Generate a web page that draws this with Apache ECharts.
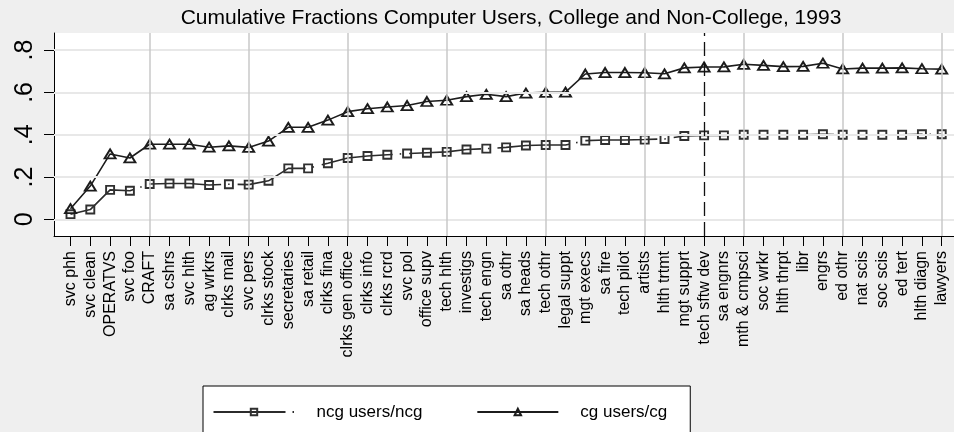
<!DOCTYPE html>
<html>
<head>
<meta charset="utf-8">
<script src="https://cdn.jsdelivr.net/npm/echarts@6/dist/echarts.min.js"></script>
<style>
  html, body { margin: 0; padding: 0; background: #efefef; }
  #chart { width: 954px; height: 432px; }
</style>
</head>
<body>
<div id="chart"></div>
<script>
// Occupations ordered by cumulative share of computer users
const occupations = [
  'svc phh', 'svc clean', 'OPERATVS', 'svc foo', 'CRAFT', 'sa cshrs', 'svc hlth',
  'ag wrkrs', 'clrks mail', 'svc pers', 'clrks stock', 'secretaries', 'sa retail',
  'clrks fina', 'clrks gen office', 'clrks info', 'clrks rcrd', 'svc pol',
  'office supv', 'tech hlth', 'investigs', 'tech engn', 'sa othr', 'sa heads',
  'tech othr', 'legal suppt', 'mgt execs', 'sa fire', 'tech pilot', 'artists',
  'hlth trtmt', 'mgt supprt', 'tech sftw dev', 'sa engnrs', 'mth & cmpsci',
  'soc wrkr', 'hlth thrpt', 'libr', 'engrs', 'ed othr', 'nat scis', 'soc scis',
  'ed tert', 'hlth diagn', 'lawyers'
];

// Non-college computer users / non-college workers (cumulative)
const ncgShare = [
  0.024, 0.046, 0.139, 0.135, 0.167, 0.169, 0.169, 0.162, 0.166, 0.164,
  0.182, 0.241, 0.241, 0.265, 0.290, 0.299, 0.305, 0.311, 0.315, 0.319,
  0.330, 0.334, 0.340, 0.349, 0.351, 0.351, 0.372, 0.375, 0.375, 0.377,
  0.380, 0.394, 0.397, 0.397, 0.400, 0.400, 0.400, 0.400, 0.402, 0.400,
  0.400, 0.400, 0.400, 0.402, 0.402
];

// College computer users / college workers (cumulative)
const cgShare = [
  0.050, 0.157, 0.309, 0.290, 0.355, 0.355, 0.355, 0.341, 0.347, 0.340,
  0.370, 0.435, 0.435, 0.469, 0.509, 0.523, 0.531, 0.538, 0.557, 0.563,
  0.580, 0.591, 0.580, 0.597, 0.600, 0.601, 0.687, 0.694, 0.694, 0.693,
  0.688, 0.716, 0.720, 0.721, 0.733, 0.728, 0.722, 0.723, 0.738, 0.711,
  0.715, 0.715, 0.716, 0.712, 0.710
];

const yTicks = [0, 0.2, 0.4, 0.6, 0.8];
const xRuleTicks = [5, 10, 15, 20, 25, 30, 35, 40, 45];
const cutoffPosition = 33; // tech sftw dev

const positions = occupations.map((_, i) => i + 1);
const font = "'Liberation Sans', Arial, Helvetica, sans-serif";

const chart = echarts.init(document.getElementById('chart'), null, { renderer: 'canvas' });

chart.setOption({
  animation: false,
  backgroundColor: '#efefef',
  textStyle: { fontFamily: font },
  title: {
    text: 'Cumulative Fractions Computer Users, College and Non-College, 1993',
    left: 506,
    textAlign: 'center',
    top: 3,
    textStyle: { fontFamily: font, fontSize: 21, fontWeight: 'normal', color: '#000' }
  },
  grid: {
    left: 54, right: 0, top: 33, bottom: 196,
    show: true, backgroundColor: '#ffffff', borderWidth: 0
  },
  legend: {
    data: ['ncg users/ncg', 'cg users/cg'],
    left: 203, top: 386,
    orient: 'horizontal',
    backgroundColor: '#ffffff',
    borderColor: '#000', borderWidth: 1, borderRadius: 0,
    padding: [16, 23, 40, 9.5],
    itemWidth: 81, itemHeight: 8, itemGap: 54,
    textStyle: { fontFamily: font, fontSize: 17, color: '#000', lineHeight: 20, padding: [0, 0, 0, 17] }
  },
  xAxis: {
    type: 'value',
    min: 0.167, max: 45.62,
    axisLine: { show: true, onZero: false, lineStyle: { color: '#000', width: 1 } },
    axisTick: { show: true, length: 10, customValues: positions, lineStyle: { color: '#000', width: 1 } },
    axisLabel: {
      customValues: positions,
      rotate: 90, margin: 15,
      fontFamily: font, fontSize: 16, color: '#000',
      formatter: v => occupations[Math.round(v) - 1] || ''
    },
    splitLine: { show: false }
  },
  yAxis: {
    type: 'value',
    min: -0.079, max: 0.881,
    axisLine: { show: true, onZero: false, lineStyle: { color: '#000', width: 1 } },
    axisTick: { show: true, length: 10, customValues: yTicks, lineStyle: { color: '#000', width: 1 } },
    axisLabel: {
      customValues: yTicks,
      rotate: 90, margin: 16,
      fontFamily: font, fontSize: 25, color: '#000',
      formatter: v => (Math.abs(v) < 1e-9 ? '0' : String(+v.toFixed(1)).replace(/^0/, ''))
    },
    splitLine: { show: false }
  },
  series: [
    {
      // reference rules: horizontal grid, vertical grid, cutoff line
      name: 'rules',
      type: 'line',
      data: [],
      z: 1,
      silent: true,
      markLine: {
        silent: true,
        symbol: ['none', 'none'],
        label: { show: false },
        emphasis: { disabled: true },
        data: [
          ...yTicks.map(v => ({ yAxis: v, lineStyle: { color: '#e8e8e8', width: 2, type: 'solid' } })),
          ...xRuleTicks.map(v => ({ xAxis: v, lineStyle: { color: '#c8c8c8', width: 1.5, type: 'solid' } })),
          { xAxis: cutoffPosition, lineStyle: { color: '#111', width: 1.3, type: [14, 6] } }
        ]
      }
    },
    {
      name: 'ncg users/ncg',
      type: 'line',
      z: 3,
      data: positions.map((x, i) => [x, ncgShare[i]]),
      symbol: 'rect',
      symbolSize: 8,
      showAllSymbol: true,
      lineStyle: { color: '#2b2b2b', width: 1.6, type: [72, 7, 1.5, 8] },
      itemStyle: { color: 'rgba(255,255,255,0)', borderColor: '#303030', borderWidth: 1.9 }
    },
    {
      name: 'cg users/cg',
      type: 'line',
      z: 4,
      data: positions.map((x, i) => [x, cgShare[i]]),
      symbol: 'triangle',
      symbolSize: [11, 9],
      showAllSymbol: true,
      lineStyle: { color: '#1c1c1c', width: 1.6, type: 'solid' },
      itemStyle: { color: 'rgba(255,255,255,0)', borderColor: '#1c1c1c', borderWidth: 1.9 }
    }
  ]
});
</script>
</body>
</html>
